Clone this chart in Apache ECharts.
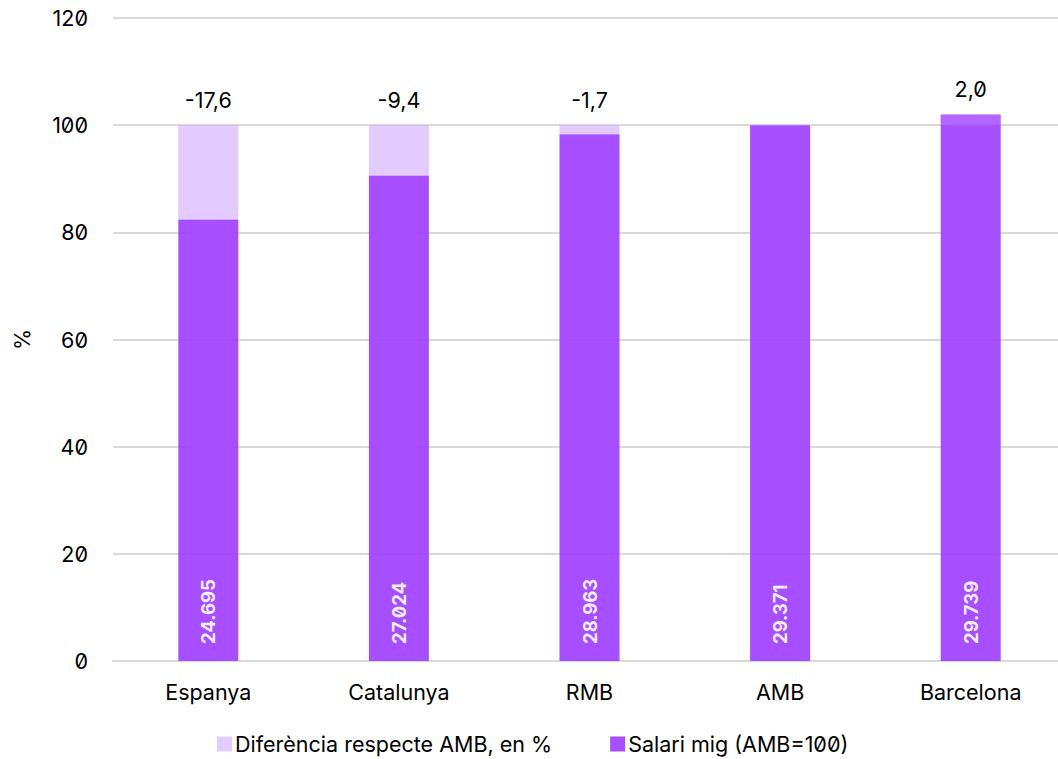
<!DOCTYPE html>
<html>
<head>
<meta charset="utf-8">
<script src="https://cdn.jsdelivr.net/npm/echarts@6/dist/echarts.min.js"></script>
<style>
  html, body { margin: 0; padding: 0; background: #ffffff; }
  #chart { width: 1058px; height: 759px; font-feature-settings: "zero" 1; }
  #chart text { font-feature-settings: "zero" 1; }
</style>
</head>
<body>
<div id="chart"></div>
<script>
const categories = ['Espanya', 'Catalunya', 'RMB', 'AMB', 'Barcelona'];
const salaryIndex = [82.4, 90.6, 98.3, 100, 102.0];
const diffPct = [-17.6, -9.4, -1.7, 0, 2.0];
const salaryEuros = [24695, 27024, 28963, 29371, 29739];
const yTicks = [0, 20, 40, 60, 80, 100, 120];

const FONT = 'Inter';
const FS = 21.5;
function fmtThousands(v) {
  return String(v).replace(/\B(?=(\d{3})+(?!\d))/g, '.');
}
function fmtDiff(v) {
  return v.toFixed(1).replace('.', ',');
}

const baseData = salaryIndex.map(v => Math.min(v, 100));
const diffData = diffPct.map(d => ({
  value: Math.abs(d),
  label: { show: d !== 0 },
  itemStyle: d > 0 ? { color: 'rgba(210,170,255,0.25)' } : undefined
}));

const chart = echarts.init(document.getElementById('chart'), null, { renderer: 'svg' });
chart.setOption({
  animation: false,
  textStyle: { fontFamily: FONT },
  grid: { left: 113, width: 953, top: 18, bottom: 98, outerBoundsMode: 'none', containLabel: false },
  legend: {
    bottom: -1,
    left: 212,
    itemWidth: 15,
    itemHeight: 15,
    itemGap: 58,
    icon: 'rect',
    textStyle: { fontFamily: FONT, fontSize: FS, color: '#000', padding: [0, 0, 0, -2] },
    data: ['Diferència respecte AMB, en %', 'Salari mig (AMB=100)']
  },
  xAxis: {
    type: 'category',
    data: categories,
    axisTick: { show: false },
    axisLine: { lineStyle: { color: '#d9d9d9', width: 2 } },
    axisLabel: { fontFamily: FONT, fontSize: FS, color: '#000', margin: 20 }
  },
  yAxis: {
    type: 'value',
    min: yTicks[0],
    max: yTicks[yTicks.length - 1],
    interval: yTicks[1] - yTicks[0],
    name: '%',
    nameLocation: 'middle',
    nameGap: 80,
    nameRotate: 90,
    nameTextStyle: { fontFamily: FONT, fontSize: FS, color: '#000' },
    axisLine: { show: false },
    axisTick: { show: false },
    splitLine: { lineStyle: { color: '#d9d9d9', width: 2 } },
    axisLabel: { fontFamily: FONT, fontSize: FS, color: '#000', margin: 25 }
  },
  series: [
    {
      name: 'Salari mig (AMB=100)',
      type: 'bar',
      data: salaryIndex,
      barWidth: 60,
      barGap: '-100%',
      itemStyle: { color: '#a040ff', opacity: 0.92 },
      label: {
        show: true,
        position: 'insideBottom',
        rotate: 90,
        align: 'left',
        verticalAlign: 'middle',
        distance: 17,
        color: '#fff',
        fontWeight: 'bold',
        fontSize: 18.5,
        fontFamily: FONT,
        formatter: p => fmtThousands(salaryEuros[p.dataIndex])
      },
      z: 2
    },
    {
      name: 'base',
      type: 'bar',
      stack: 'diff',
      data: baseData,
      barWidth: 60,
      itemStyle: { color: 'rgba(0,0,0,0)' },
      legendHoverLink: false,
      silent: true,
      z: 3
    },
    {
      name: 'Diferència respecte AMB, en %',
      type: 'bar',
      stack: 'diff',
      data: diffData,
      barWidth: 60,
      itemStyle: { color: 'rgba(205,160,255,0.55)' },
      label: {
        show: true,
        position: 'top',
        distance: 14,
        color: '#000',
        fontSize: FS,
        fontFamily: FONT,
        formatter: p => fmtDiff(diffPct[p.dataIndex])
      },
      z: 3
    }
  ]
});
</script>
</body>
</html>
